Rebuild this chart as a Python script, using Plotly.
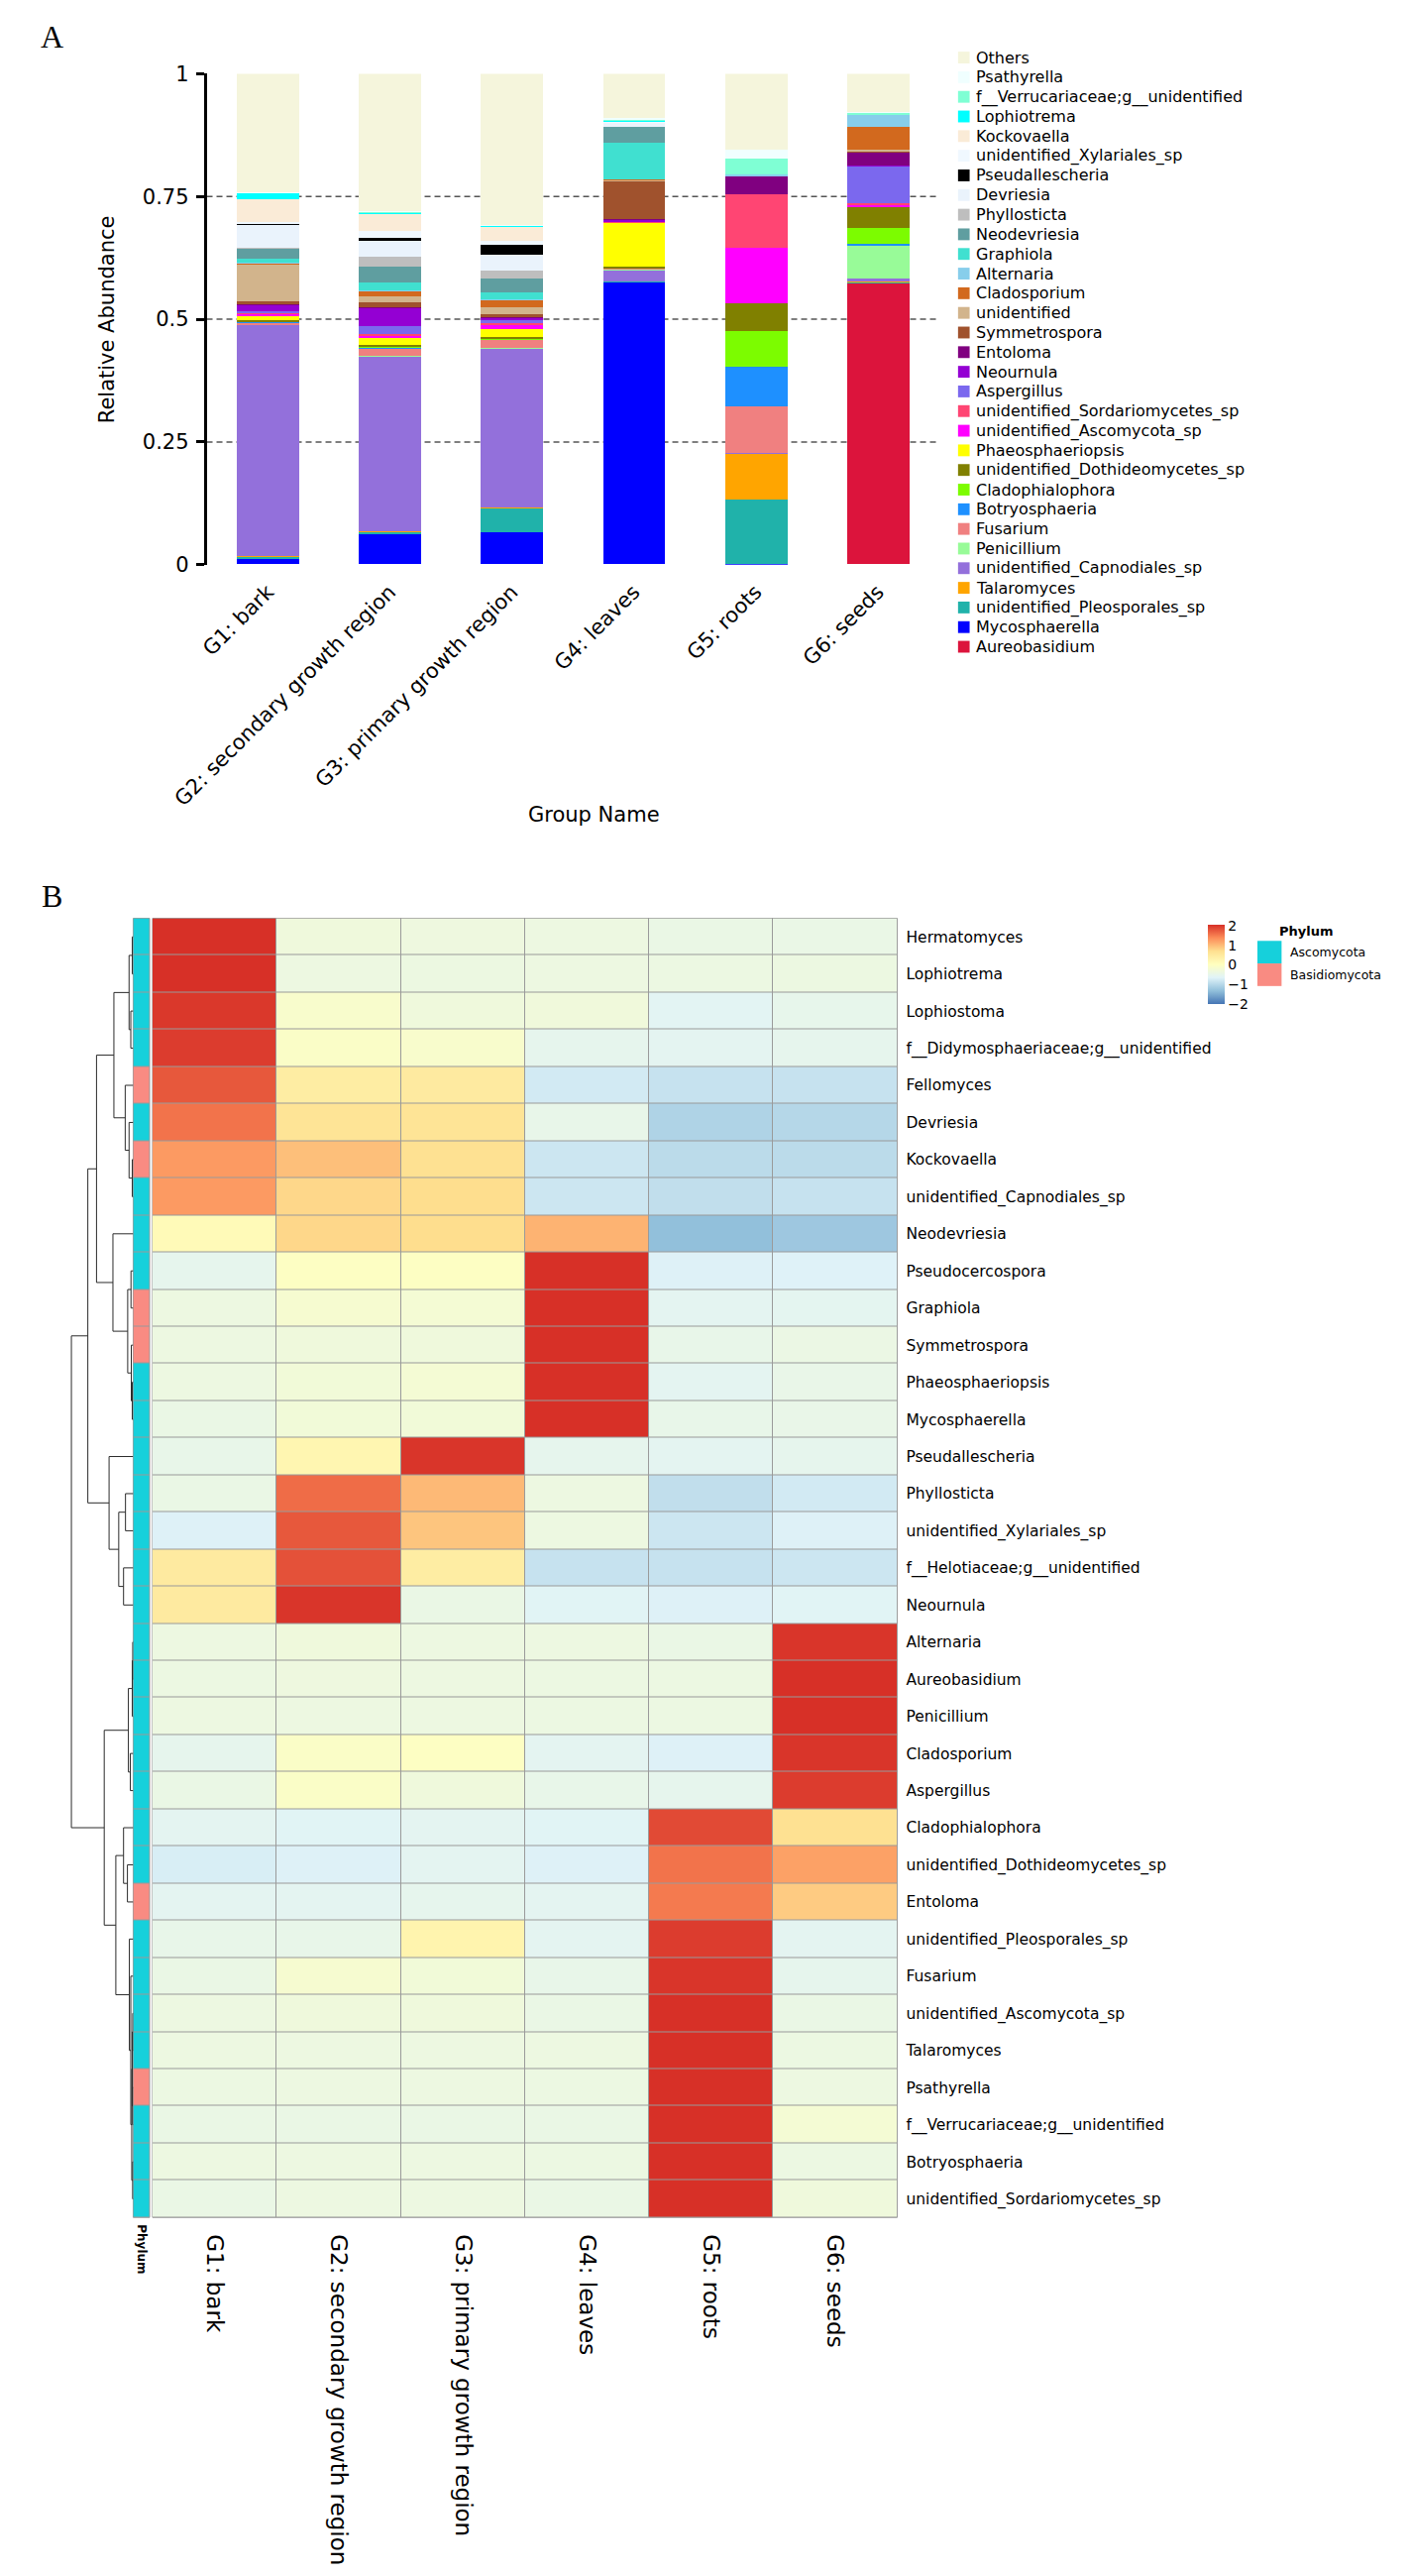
import numpy as np
import plotly.graph_objects as go

W, H = 1424, 2599


def px(x):
    return x / W


def py(y):
    return 1 - y / H


FONT = "DejaVu Sans"

# ---------------- Panel A data (stack order: bottom -> top) ----------------
groups = ["G1: bark", "G2: secondary growth region", "G3: primary growth region",
          "G4: leaves", "G5: roots", "G6: seeds"]

taxa = ["Aureobasidium", "Mycosphaerella", "unidentified_Pleosporales_sp", "Talaromyces",
        "unidentified_Capnodiales_sp", "Penicillium", "Fusarium", "Botryosphaeria",
        "Cladophialophora", "unidentified_Dothideomycetes_sp", "Phaeosphaeriopsis",
        "unidentified_Ascomycota_sp", "unidentified_Sordariomycetes_sp", "Aspergillus",
        "Neournula", "Entoloma", "Symmetrospora", "unidentified", "Cladosporium",
        "Alternaria", "Graphiola", "Neodevriesia", "Phyllosticta", "Devriesia",
        "Pseudallescheria", "unidentified_Xylariales_sp", "Kockovaella", "Lophiotrema",
        "f__Verrucariaceae;g__unidentified", "Psathyrella", "Others"]

taxa_colors = ["#DC143C", "#0000FF", "#20B2AA", "#FFA500", "#9370DB", "#98FB98", "#F08080",
               "#1E90FF", "#7CFC00", "#808000", "#FFFF00", "#FF00FF", "#FF4573", "#7B68EE",
               "#9400D3", "#800080", "#A0522D", "#D2B48C", "#D2691E", "#87CEEB", "#40E0D0",
               "#5F9EA0", "#BEBEBE", "#EAF3FC", "#000000", "#F0F8FF", "#FAEBD7", "#00FFFF",
               "#7FFFD4", "#F0FFFF", "#F5F5DC"]

ab_g1 = [0, 0.012, 0.003, 0.001, 0.472, 0.001, 0.004, 0.001, 0.001, 0.002, 0.008, 0.005,
         0.003, 0.002, 0.013, 0.001, 0.007, 0.075, 0.002, 0.001, 0.008, 0.021, 0.002, 0.048,
         0.001, 0.003, 0.046, 0.013, 0.001, 0.001, 0.242]
ab_g2 = [0, 0.062, 0.004, 0.001, 0.356, 0.001, 0.015, 0.003, 0.001, 0.003, 0.015, 0.005,
         0.004, 0.015, 0.038, 0.001, 0.010, 0.011, 0.011, 0.001, 0.018, 0.031, 0.021, 0.031,
         0.007, 0.015, 0.035, 0.002, 0.001, 0.001, 0.281]
ab_g3 = [0, 0.066, 0.048, 0.001, 0.325, 0.001, 0.016, 0.001, 0.001, 0.004, 0.017, 0.009,
         0.003, 0.005, 0.005, 0.001, 0.007, 0.013, 0.015, 0.001, 0.015, 0.029, 0.015, 0.032,
         0.020, 0.009, 0.029, 0.002, 0.001, 0.001, 0.308]
ab_g4 = [0, 0.575, 0.001, 0, 0.024, 0.001, 0.002, 0, 0.001, 0.003, 0.089, 0.001,
         0.001, 0.001, 0.003, 0.001, 0.078, 0.001, 0.002, 0.001, 0.073, 0.033, 0.001, 0.008,
         0.001, 0.001, 0.001, 0.001, 0.002, 0.004, 0.090]
ab_g5 = [0, 0.001, 0.130, 0.095, 0.001, 0, 0.095, 0.080, 0.073, 0.056, 0, 0.113,
         0.110, 0, 0, 0.037, 0, 0, 0.001, 0.002, 0, 0, 0, 0,
         0, 0, 0, 0, 0.033, 0.017, 0.156]
ab_g6 = [0.574, 0, 0.001, 0.001, 0.006, 0.067, 0.001, 0.002, 0.033, 0.043, 0.001, 0.003,
         0.003, 0.077, 0.001, 0.027, 0.001, 0.003, 0.048, 0.024, 0, 0, 0, 0,
         0, 0, 0, 0, 0.004, 0.002, 0.078]

y_ticks = [0, 0.25, 0.5, 0.75, 1]
y_tick_text = ["0", "0.25", "0.5", "0.75", "1"]
grid_vals = [0.25, 0.5, 0.75]

# ---------------- Panel B data ----------------
heat_rows = ["Hermatomyces", "Lophiotrema", "Lophiostoma", "f__Didymosphaeriaceae;g__unidentified",
             "Fellomyces", "Devriesia", "Kockovaella", "unidentified_Capnodiales_sp", "Neodevriesia",
             "Pseudocercospora", "Graphiola", "Symmetrospora", "Phaeosphaeriopsis", "Mycosphaerella",
             "Pseudallescheria", "Phyllosticta", "unidentified_Xylariales_sp",
             "f__Helotiaceae;g__unidentified", "Neournula", "Alternaria", "Aureobasidium",
             "Penicillium", "Cladosporium", "Aspergillus", "Cladophialophora",
             "unidentified_Dothideomycetes_sp", "Entoloma", "unidentified_Pleosporales_sp",
             "Fusarium", "unidentified_Ascomycota_sp", "Talaromyces", "Psathyrella",
             "f__Verrucariaceae;g__unidentified", "Botryosphaeria", "unidentified_Sordariomycetes_sp"]

phylum = ["Ascomycota", "Ascomycota", "Ascomycota", "Ascomycota", "Basidiomycota",
          "Ascomycota", "Basidiomycota", "Ascomycota", "Ascomycota", "Ascomycota",
          "Basidiomycota", "Basidiomycota", "Ascomycota", "Ascomycota", "Ascomycota",
          "Ascomycota", "Ascomycota", "Ascomycota", "Ascomycota", "Ascomycota",
          "Ascomycota", "Ascomycota", "Ascomycota", "Ascomycota", "Ascomycota",
          "Ascomycota", "Basidiomycota", "Ascomycota", "Ascomycota", "Ascomycota",
          "Ascomycota", "Basidiomycota", "Ascomycota", "Ascomycota", "Ascomycota"]
phylum_names = ["Ascomycota", "Basidiomycota"]
phylum_colors = ["#16D0DB", "#F98B82"]

z_g1 = [2.04, 2.04, 1.98, 1.95, 1.75, 1.55, 1.25, 1.25, 0.10, -0.55, -0.40, -0.40, -0.40,
        -0.45, -0.50, -0.45, -0.70, 0.45, 0.45, -0.40, -0.42, -0.40, -0.55, -0.45, -0.60,
        -0.75, -0.60, -0.50, -0.45, -0.40, -0.40, -0.42, -0.45, -0.40, -0.45]
z_g2 = [-0.35, -0.40, -0.15, -0.10, 0.40, 0.60, 0.95, 0.75, 0.75, -0.05, -0.20, -0.35, -0.30,
        -0.30, 0.20, 1.60, 1.75, 1.80, 2.00, -0.35, -0.38, -0.40, -0.10, -0.10, -0.65,
        -0.70, -0.60, -0.50, -0.20, -0.35, -0.40, -0.40, -0.45, -0.40, -0.40]
z_g3 = [-0.38, -0.41, -0.35, -0.15, 0.45, 0.60, 0.65, 0.70, 0.70, -0.05, -0.25, -0.35, -0.25,
        -0.30, 2.00, 1.00, 0.90, 0.40, -0.45, -0.40, -0.40, -0.40, -0.05, -0.35, -0.60,
        -0.60, -0.55, 0.25, -0.30, -0.35, -0.40, -0.40, -0.45, -0.40, -0.40]
z_g4 = [-0.40, -0.40, -0.33, -0.55, -0.80, -0.50, -0.85, -0.85, 1.05, 2.04, 2.04, 2.04, 2.04,
        2.04, -0.55, -0.40, -0.40, -0.90, -0.65, -0.40, -0.42, -0.42, -0.60, -0.50, -0.65,
        -0.70, -0.60, -0.60, -0.50, -0.45, -0.40, -0.42, -0.45, -0.42, -0.45]
z_g5 = [-0.45, -0.42, -0.62, -0.60, -0.90, -1.10, -1.00, -0.95, -1.35, -0.70, -0.60, -0.50,
        -0.60, -0.50, -0.60, -0.95, -0.85, -0.90, -0.70, -0.45, -0.42, -0.42, -0.70, -0.55,
        1.85, 1.55, 1.50, 1.95, 2.00, 2.04, 2.04, 2.04, 2.04, 2.04, 2.04]
z_g6 = [-0.46, -0.41, -0.53, -0.55, -0.90, -1.05, -1.00, -0.90, -1.25, -0.69, -0.59, -0.44,
        -0.49, -0.49, -0.55, -0.80, -0.70, -0.85, -0.65, 2.00, 2.04, 2.04, 2.00, 1.95, 0.65,
        1.20, 0.85, -0.60, -0.55, -0.45, -0.42, -0.40, -0.25, -0.42, -0.35]

heat_colors = ["#4575B4", "#91BFDB", "#E0F3F8", "#FFFFBF", "#FEE090", "#FC8D59", "#D73027"]
cbar_ticks = [-2, -1, 0, 1, 2]

# Row dendrogram (leaf = row index, node = (left, right, merge height))
clA = ((0, 1, 1.0), (2, 3, 2.5), 4.3)
clB = (4, (5, (6, 7, 1.0), 4.3), 8.3)
clC = ((9, 10, 2.3), (11, (12, 13, 1.0), 2.0), 5.7)
clD = (14, ((15, 16, 8.0), (17, 18, 10.0), 15.0), 25.0)
clE = (((19, 20, 0.5), 21, 1.0), (22, 23, 3.0), 5.0)
clF = (24, (25, 26, 6.0), 10.0)
clG = (27, (28, (((29, 30, 0.5), (31, 32, 0.7), 1.0), (33, 34, 0.6), 1.5), 2.5), 4.0)
top1 = ((clA, clB, 20.0), (8, clC, 21.0), 38.0)
top2 = (top1, clD, 47.0)
lower = (clE, (clF, clG, 18.0), 30.0)
root = (top2, lower, 64.0)

# ---------------- figure ----------------
fig = go.Figure()

ab_cols = [ab_g1, ab_g2, ab_g3, ab_g4, ab_g5, ab_g6]
for i, name in enumerate(taxa):
    fig.add_trace(go.Bar(
        x=list(range(len(groups))), y=[col[i] for col in ab_cols], name=name,
        marker=dict(color=taxa_colors[i], line=dict(width=0)), width=0.51,
        showlegend=False, xaxis="x", yaxis="y"))

Z = np.column_stack([z_g1, z_g2, z_g3, z_g4, z_g5, z_g6])
zlim = 2.04
fig.add_trace(go.Heatmap(
    z=Z, x=list(range(len(groups))), y=list(range(len(heat_rows))),
    colorscale=[[k / (len(heat_colors) - 1), c] for k, c in enumerate(heat_colors)],
    zmin=-zlim, zmax=zlim, xgap=1, ygap=1, xaxis="x2", yaxis="y2",
    colorbar=dict(x=px(1214), xanchor="left", y=py(930), yanchor="top",
                  len=80, lenmode="pixels", thickness=17, thicknessmode="pixels",
                  outlinewidth=0, xpad=0, ypad=0, ticks="", tickvals=cbar_ticks,
                  tickfont=dict(size=14, family=FONT, color="black"))))

ph_idx = [[phylum_names.index(p)] for p in phylum]
fig.add_trace(go.Heatmap(
    z=ph_idx, x=[0], y=list(range(len(heat_rows))),
    colorscale=[[0, phylum_colors[0]], [0.5, phylum_colors[0]], [0.5, phylum_colors[1]], [1, phylum_colors[1]]],
    zmin=0, zmax=1, showscale=False, xgap=1, ygap=1, xaxis="x3", yaxis="y3"))


def walk(node, xs, ys):
    if isinstance(node, int):
        return float(node), 0.0
    left, right, h = node
    yl, hl = walk(left, xs, ys)
    yr, hr = walk(right, xs, ys)
    xs.extend([hl, h, h, hr, None])
    ys.extend([yl, yl, yr, yr, None])
    return (yl + yr) / 2, h


dx, dy = [], []
walk(root, dx, dy)
fig.add_trace(go.Scatter(x=dx, y=dy, mode="lines", line=dict(color="#2b2b2b", width=1),
                         showlegend=False, hoverinfo="skip", xaxis="x4", yaxis="y4"))

heat_y_dom = [py(2246), py(923)]
n_rows = len(heat_rows)

shapes = []
annotations = []

# dashed reference lines in panel A
for v in grid_vals:
    shapes.append(dict(type="line", xref="x domain", yref="y", x0=0, x1=1, y0=v, y1=v,
                       line=dict(color="#555555", width=1.5, dash="6px,4px"), layer="below"))

# grey cell borders for the heatmaps
for ax in ["x2", "x3"]:
    yref = "y2" if ax == "x2" else "y3"
    shapes.append(dict(type="rect", xref=ax + " domain", yref=yref + " domain", x0=0, x1=1, y0=0, y1=1,
                       fillcolor="#9a9a9a", line=dict(color="#9a9a9a", width=1), layer="below"))

# legend for panel A (top to bottom = reverse stacking order)
for k, i in enumerate(range(len(taxa) - 1, -1, -1)):
    yc = 46.5 + 20 * k
    shapes.append(dict(type="rect", xref="paper", yref="paper", x0=px(955), x1=px(967),
                       y0=py(yc + 6), y1=py(yc - 6), fillcolor=taxa_colors[i], line=dict(width=0)))
    annotations.append(dict(x=px(972), y=py(yc), xref="paper", yref="paper", text=taxa[i],
                            showarrow=False, xanchor="left", yanchor="middle",
                            font=dict(size=16, family=FONT, color="black")))

# phylum legend
annotations.append(dict(x=px(1286), y=py(936), xref="paper", yref="paper", text="<b>Phylum</b>",
                        showarrow=False, xanchor="left", yanchor="middle",
                        font=dict(size=13, family=FONT, color="black")))
for k, (nm, col) in enumerate(zip(phylum_names, phylum_colors)):
    top = 946 + 23 * k
    shapes.append(dict(type="rect", xref="paper", yref="paper", x0=px(1265), x1=px(1290),
                       y0=py(top + 23), y1=py(top), fillcolor=col, line=dict(width=0)))
    annotations.append(dict(x=px(1297), y=py(top + 11.5), xref="paper", yref="paper", text=nm,
                            showarrow=False, xanchor="left", yanchor="middle",
                            font=dict(size=12.5, family=FONT, color="black")))

# axis titles and panel letters
annotations.append(dict(x=px(74), y=py(313), xref="paper", yref="paper", text="Relative Abundance",
                        textangle=-90, showarrow=False, xanchor="center", yanchor="middle",
                        font=dict(size=21, family=FONT, color="black")))
annotations.append(dict(x=px(578), y=py(818), xref="paper", yref="paper", text="Group Name",
                        showarrow=False, xanchor="center", yanchor="middle",
                        font=dict(size=21, family=FONT, color="black")))
annotations.append(dict(x=px(17), y=py(25), xref="paper", yref="paper", text="A", showarrow=False,
                        xanchor="center", yanchor="middle",
                        font=dict(size=32, family="Liberation Serif", color="black")))
annotations.append(dict(x=px(17), y=py(900), xref="paper", yref="paper", text="B", showarrow=False,
                        xanchor="center", yanchor="middle",
                        font=dict(size=32, family="Liberation Serif", color="black")))

fig.update_layout(
    width=W, height=H, autosize=False,
    margin=dict(l=0, r=0, t=0, b=0),
    paper_bgcolor="white", plot_bgcolor="white",
    barmode="stack", bargap=0,
    font=dict(family=FONT, color="black"),
    showlegend=False,
    shapes=shapes, annotations=annotations,
    xaxis=dict(domain=[px(177), px(935)], range=[-0.5, 5.5], tickvals=list(range(len(groups))),
               ticktext=groups, tickangle=-45, tickfont=dict(size=21), showline=False, ticks="",
               showgrid=False, zeroline=False, anchor="y", ticklabelstandoff=10),
    yaxis=dict(domain=[py(563), py(63)], range=[0, 1], tickvals=y_ticks, ticktext=y_tick_text,
               showline=True, linewidth=2.5, linecolor="black", ticks="outside", ticklen=8,
               tickwidth=2.5, tickcolor="black", tickfont=dict(size=21), showgrid=False,
               zeroline=False, anchor="x", ticklabelstandoff=3),
    xaxis2=dict(domain=[px(121), px(892)], range=[-0.5, 5.5], tickvals=list(range(len(groups))),
                ticktext=groups, tickangle=90, tickfont=dict(size=23), ticks="", showgrid=False,
                zeroline=False, showline=False, anchor="y2", ticklabelstandoff=16),
    yaxis2=dict(domain=heat_y_dom, range=[n_rows - 0.5, -0.5], tickvals=list(range(n_rows)),
                ticktext=heat_rows, side="right", tickfont=dict(size=15.5), ticks="",
                showgrid=False, zeroline=False, showline=False, anchor="x2", ticklabelstandoff=8),
    xaxis3=dict(domain=[px(101), px(118)], range=[-0.5, 0.5], tickvals=[0], ticktext=["Phylum"],
                tickangle=90, tickfont=dict(size=12, weight="bold"), ticks="", showgrid=False,
                zeroline=False, showline=False, anchor="y3", ticklabelstandoff=6),
    yaxis3=dict(domain=heat_y_dom, range=[n_rows - 0.5, -0.5], visible=False, anchor="x3"),
    xaxis4=dict(domain=[px(34), px(101)], range=[67, 0], visible=False, anchor="y4"),
    yaxis4=dict(domain=heat_y_dom, range=[n_rows - 0.5, -0.5], visible=False, anchor="x4"),
)

fig.write_html("out.html", config={"displayModeBar": False},
               post_script="document.body.style.margin='0px';document.body.style.padding='0px';")
